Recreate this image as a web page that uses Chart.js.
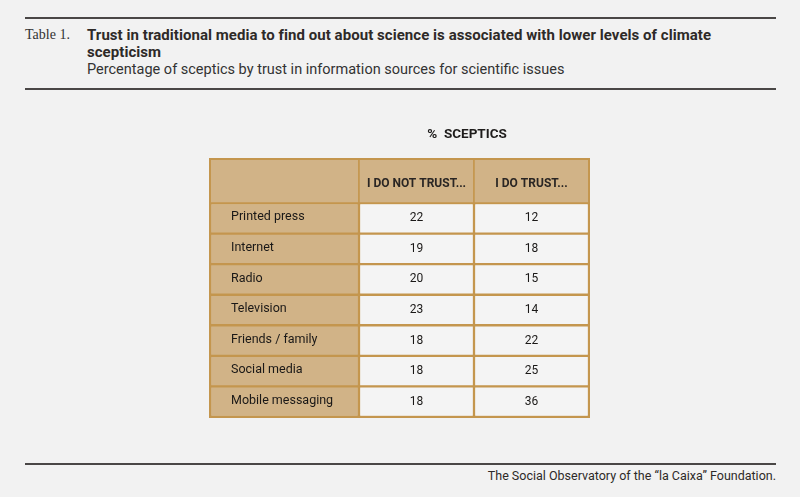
<!DOCTYPE html>
<html><head><meta charset="utf-8">
<script src="https://cdn.jsdelivr.net/npm/chart.js@4"></script>
<style>
html,body{margin:0;padding:0;background:#f2f2f2;}
#wrap{position:relative;width:800px;height:497px;overflow:hidden;background:#f2f2f2;font-family:Roboto,sans-serif;color:#333;}
.rule{position:absolute;left:25px;width:751px;height:2px;background:#4a4746;}
#tnum{position:absolute;left:25px;top:27px;font-family:"Liberation Serif","DejaVu Serif",serif;font-size:14px;color:#333;}
#title{position:absolute;left:87px;top:27px;width:660px;font-weight:bold;font-size:15px;line-height:17px;color:#2e2a28;letter-spacing:0.05px;}
#sub{position:absolute;left:87px;top:61px;font-size:14.5px;color:#333;}
#foot{position:absolute;right:24px;top:468px;font-size:12.5px;color:#2e2a28;}
#cv{position:absolute;left:0;top:0;}
</style></head>
<body><div id="wrap">
<div class="rule" style="top:17px"></div>
<div id="tnum">Table 1.</div>
<div id="title">Trust in traditional media to find out about science is associated with lower levels of climate scepticism</div>
<div id="sub">Percentage of sceptics by trust in information sources for scientific issues</div>
<div class="rule" style="top:88px"></div>
<div class="rule" style="top:463px"></div>
<div id="foot">The Social Observatory of the “la Caixa” Foundation.</div>
<canvas id="cv" width="800" height="497"></canvas>
</div>
<script>
const categories = ["Printed press","Internet","Radio","Television","Friends / family","Social media","Mobile messaging"];
const columnHeaders = ["I DO NOT TRUST...","I DO TRUST..."];
const doNotTrust = [22,19,20,23,18,18,18];
const doTrust = [12,18,15,14,22,25,36];
const tableTitle = "%  SCEPTICS";

// layout (not data): column edges on the x scale, header height
const COL_EDGES = [0,149,264,379];
const HEADER_H = 44;
const TAN = '#d1b387', GOLD = '#c4964e', CELL = '#f4f4f4', INK = '#1a1817';

const tablePlugin = {
  id:'tablePlugin',
  afterDatasetsDraw(chart){
    const ctx = chart.ctx, xs = chart.scales.x, ca = chart.chartArea;
    const top = ca.top - HEADER_H;
    ctx.save();
    for(let c=0;c<3;c++){
      const x0 = xs.getPixelForValue(COL_EDGES[c]), x1 = xs.getPixelForValue(COL_EDGES[c+1]);
      ctx.fillStyle = TAN; ctx.fillRect(x0, top, x1-x0, HEADER_H);
      ctx.strokeStyle = GOLD; ctx.lineWidth = 1.5; ctx.strokeRect(x0, top, x1-x0, HEADER_H);
      if(c>0){
        ctx.fillStyle = '#2a2624'; ctx.font = 'bold 12px Roboto, sans-serif';
        ctx.textAlign='center'; ctx.textBaseline='middle';
        ctx.fillText(columnHeaders[c-1], (x0+x1)/2, top + HEADER_H/2 + 3);
      }
    }
    const vals = [null, doNotTrust, doTrust];
    ctx.fillStyle = INK; ctx.textBaseline='middle';
    chart.data.datasets.forEach((ds, di) => {
      const meta = chart.getDatasetMeta(di);
      meta.data.forEach((el, i) => {
        if(di===0){
          ctx.font = '12.5px Roboto, sans-serif';
          ctx.textAlign='left';
          ctx.fillText(categories[i], Math.min(el.x, el.base) + 21, el.y - 1);
        } else {
          ctx.font = '12px Roboto, sans-serif';
          ctx.textAlign='center';
          ctx.fillText(String(vals[di][i]), (el.x + el.base)/2, el.y);
        }
      });
    });
    const xL = xs.getPixelForValue(COL_EDGES[0]), xR = xs.getPixelForValue(COL_EDGES[3]);
    ctx.strokeStyle = GOLD; ctx.lineWidth = 2;
    ctx.strokeRect(xL, top, xR-xL, ca.bottom - top);
    const x1 = xs.getPixelForValue(COL_EDGES[1]);
    ctx.font = 'bold 13.5px Roboto, sans-serif'; ctx.fillStyle = '#1e1c1b'; ctx.textAlign='center';
    ctx.fillText(tableTitle, (x1 + xR)/2 - 7, top - 24);
    ctx.restore();
  }
};

function col(c, bg){
  return {
    data: categories.map(() => [COL_EDGES[c], COL_EDGES[c+1]]),
    backgroundColor: bg, borderColor: GOLD, borderWidth: 1.5, borderSkipped: false,
    grouped: false, barPercentage: 1, categoryPercentage: 1
  };
}

new Chart(document.getElementById('cv'), {
  type: 'bar',
  data: { labels: categories, datasets: [col(0, TAN), col(1, CELL), col(2, CELL)] },
  options: {
    indexAxis: 'y', responsive: false, animation: false,
    layout: { padding: { left: 210, right: 211, top: 203, bottom: 80 } },
    plugins: { legend: {display:false}, tooltip: {enabled:false} },
    scales: {
      x: { type:'linear', min: COL_EDGES[0], max: COL_EDGES[3], display:false },
      y: { type:'category', display:false }
    }
  },
  plugins: [tablePlugin]
});
</script>
</body></html>
